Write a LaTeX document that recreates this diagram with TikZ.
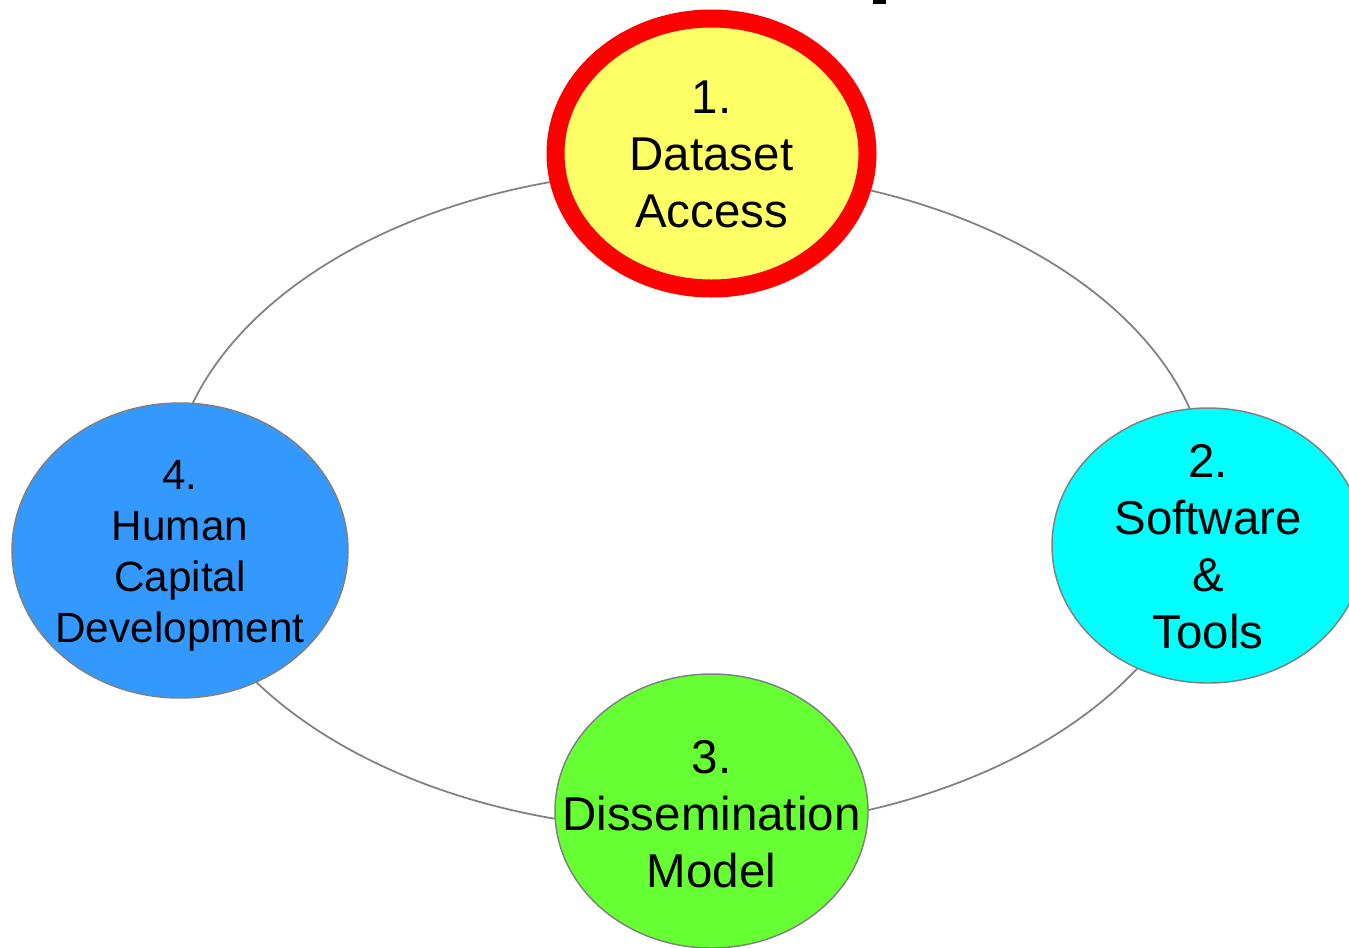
\documentclass[tikz,border=0pt]{standalone}
\usepackage{fontspec}
\setmainfont{Liberation Sans}
\usetikzlibrary{shapes.geometric}
\definecolor{ringgray}{HTML}{808080}
\definecolor{cyellow}{HTML}{FFFF66}
\definecolor{ccyan}{HTML}{00FFFF}
\definecolor{cgreen}{HTML}{66FF33}
\definecolor{cblue}{HTML}{3399FF}
\definecolor{cred}{HTML}{FF0000}
\begin{document}
\begin{tikzpicture}[x=0.75pt,y=-0.75pt,
  bubble/.style={ellipse, draw=ringgray, line width=1.1pt, inner sep=0pt},
  bigtxt/.style={align=center, inner sep=0pt, font=\fontsize{35.6}{42.75}\selectfont},
  smalltxt/.style={align=center, inner sep=0pt, font=\fontsize{31.7}{38.25}\selectfont},
  ringline/.style={ellipse, draw=ringgray, line width=1.3pt, inner sep=0pt}]
\useasboundingbox (0,0) rectangle (1349,947);
\fill[white] (0,0) rectangle (1349,947);
\node[ringline, minimum width=780pt, minimum height=495pt] (ring) at (690,500) {};
\node[bubble, fill=cyellow, draw=cred, line width=13.5pt, minimum width=234pt, minimum height=202.5pt,
  label={[bigtxt, yshift=-0.75pt]center:1.\\Dataset\\Access}] (n1) at (711.5,153.5) {};
\node[bubble, fill=ccyan, minimum width=234pt, minimum height=206.25pt,
  label={[bigtxt, yshift=-1pt]center:2.\\Software\\\&\\Tools}] (n2) at (1208,545.5) {};
\node[bubble, fill=cgreen, minimum width=234.75pt, minimum height=205.5pt,
  label={[bigtxt, yshift=-2.25pt]center:3.\\Dissemination\\Model}] (n3) at (711.5,811) {};
\node[bubble, fill=cblue, minimum width=252pt, minimum height=221.25pt,
  label={[smalltxt, yshift=-3.75pt]center:4.\\Human\\Capital\\Development}] (n4) at (180,550.5) {};
\fill[black] (873,0) rectangle (886,4);
\end{tikzpicture}
\end{document}
